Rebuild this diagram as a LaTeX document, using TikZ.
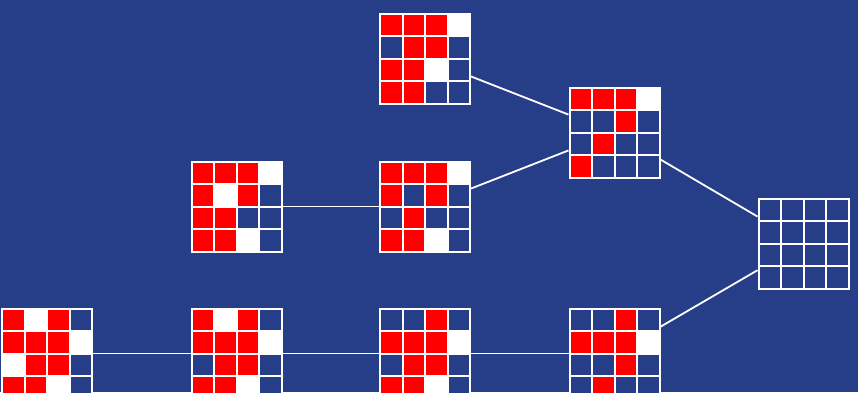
\documentclass[tikz,border=0pt]{standalone}
\usepackage{tikz}
\definecolor{bgblue}{HTML}{263E88}
\definecolor{cellR}{HTML}{FF0000}
\colorlet{cellW}{white}
\colorlet{cellB}{bgblue}
\tikzset{
  board/.style={draw=white,line width=2pt,rectangle,minimum size=90pt,inner sep=0pt},
  cell/.style={draw=white,line width=2pt},
  link/.style={white,line width=1.8pt},
}
% one 4x4 board: name, centre, cells row by row
\newcommand{\drawboard}[3]{%
  \begin{scope}[shift={(#2)}]
    \foreach \cl [count=\k from 0] in {#3} {
      \pgfmathtruncatemacro\col{mod(\k,4)}
      \pgfmathtruncatemacro\row{div(\k,4)}
      \filldraw[cell,fill=cell\cl] (-45+\col*22.5,-45+\row*22.5) rectangle ++(22.5,22.5);
    }
  \end{scope}
  \node[board] (#1) at (#2) {};
}
\begin{document}
\begin{tikzpicture}[x=1pt,y=-1pt]
  \fill[bgblue] (0,0) rectangle (858,392);
  \useasboundingbox (0,0) rectangle (858,392);
  \clip (0,0) rectangle (858,392);
  \drawboard{top}{425,58.5}{R,R,R,W, B,R,R,B, R,R,W,B, R,R,B,B}
  \drawboard{upper}{614.5,132.5}{R,R,R,W, B,B,R,B, B,R,B,B, R,B,B,B}
  \drawboard{midL}{236.5,206.5}{R,R,R,W, R,W,R,B, R,R,B,B, R,R,W,B}
  \drawboard{midR}{425,206.5}{R,R,R,W, R,B,R,B, B,R,B,B, R,R,W,B}
  \drawboard{root}{803.5,243.5}{B,B,B,B, B,B,B,B, B,B,B,B, B,B,B,B}
  \drawboard{botA}{47,353.5}{R,W,R,B, R,R,R,W, W,R,R,B, R,R,W,B}
  \drawboard{botB}{236.5,353.5}{R,W,R,B, R,R,R,W, B,R,R,B, R,R,W,B}
  \drawboard{botC}{425,353.5}{B,B,R,B, R,R,R,W, B,R,R,B, R,R,W,B}
  \drawboard{botD}{614.5,353.5}{B,B,R,B, R,R,R,W, B,B,R,B, B,R,B,B}
  \draw[link] (top)--(upper);
  \draw[link] (midR)--(upper);
  \draw[link] (midL)--(midR);
  \draw[link] (upper)--(root);
  \draw[link] (botD)--(root);
  \draw[link] (botA)--(botB);\draw[link] (botB)--(botC);\draw[link] (botC)--(botD);
\end{tikzpicture}
\end{document}
